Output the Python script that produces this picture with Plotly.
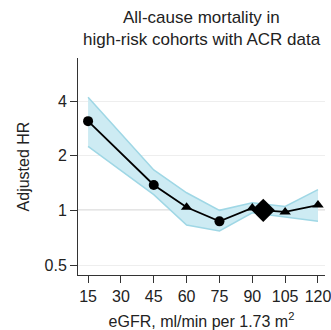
import plotly.graph_objects as go

egfr = [15, 45, 60, 75, 90, 95, 105, 120]
hr = [3.1, 1.38, 1.04, 0.87, 1.03, 1.0, 0.98, 1.07]
markers = ["circle", "circle", "triangle-up", "circle", "triangle-up", "diamond", "triangle-up", "triangle-up"]
sizes = [10, 10, 10, 10, 10, 18, 10, 10]

band_x = [15, 45, 60, 75, 90, 105, 120]
band_upper = [4.2, 1.67, 1.25, 1.0, 1.1, 1.05, 1.3]
band_lower = [2.25, 1.22, 0.83, 0.77, 0.97, 0.92, 0.87]

x_ticks = [15, 30, 45, 60, 75, 90, 105, 120]
y_ticks = [0.5, 1, 2, 4]
y_tick_labels = ["0.5", "1", "2", "4"]
title_lines = ["All-cause mortality in", "high-risk cohorts with ACR data"]

fig = go.Figure()
fig.add_trace(go.Scatter(x=band_x, y=band_upper, mode="lines",
                         line=dict(color="#9fd7e5", width=1.5), showlegend=False, hoverinfo="skip"))
fig.add_trace(go.Scatter(x=band_x, y=band_lower, mode="lines", fill="tonexty",
                         fillcolor="#cdebf3",
                         line=dict(color="#9fd7e5", width=1.5), showlegend=False, hoverinfo="skip"))
fig.add_hline(y=1, line=dict(color="#555555", width=1), layer="below")
fig.add_trace(go.Scatter(x=egfr, y=hr, mode="lines+markers",
                         line=dict(color="black", width=1.8),
                         marker=dict(symbol=markers, size=sizes, color="black", opacity=1,
                                     line=dict(width=0)),
                         opacity=1, showlegend=False))

font = "Liberation Sans, Arial, sans-serif"
# plot area: top 58px, bottom 275px (height 217px)
title_ys = [(275 - 18) / 217, (275 - 39) / 217]
fig.update_layout(
    width=331, height=330,
    margin=dict(l=78, r=6, t=58, b=55),
    paper_bgcolor="white", plot_bgcolor="white",
    font=dict(family=font, size=16, color="#222222"),
    annotations=[dict(text=t, xref="paper", yref="paper", x=0.502, y=yy,
                      xanchor="center", yanchor="middle", showarrow=False,
                      font=dict(size=17, color="#222222"))
                 for t, yy in zip(title_lines, title_ys)],
)
fig.update_xaxes(range=[10.4, 123.2], tickvals=x_ticks, ticks="outside", ticklen=7,
                 tickcolor="#333333", showline=True, linecolor="#333333", linewidth=1,
                 showgrid=False, zeroline=False, tickfont=dict(size=16),
                 ticklabeloverflow="allow", automargin=False,
                 title=dict(text="eGFR, ml/min per 1.73 m<sup>2</sup>", font=dict(size=16), standoff=14))
fig.update_yaxes(type="log", range=[-0.356, 0.839], tickvals=y_ticks, ticktext=y_tick_labels,
                 ticks="outside", ticklen=7, tickcolor="#333333", showline=True,
                 linecolor="#333333", linewidth=1, showgrid=True, gridcolor="#eeeeee",
                 zeroline=False, tickfont=dict(size=16), automargin=False,
                 title=dict(text="Adjusted HR", font=dict(size=16), standoff=10))

fig.write_html("out.html", config={"displayModeBar": False},
               post_script="document.body.style.margin='0';document.body.style.overflow='hidden';")
